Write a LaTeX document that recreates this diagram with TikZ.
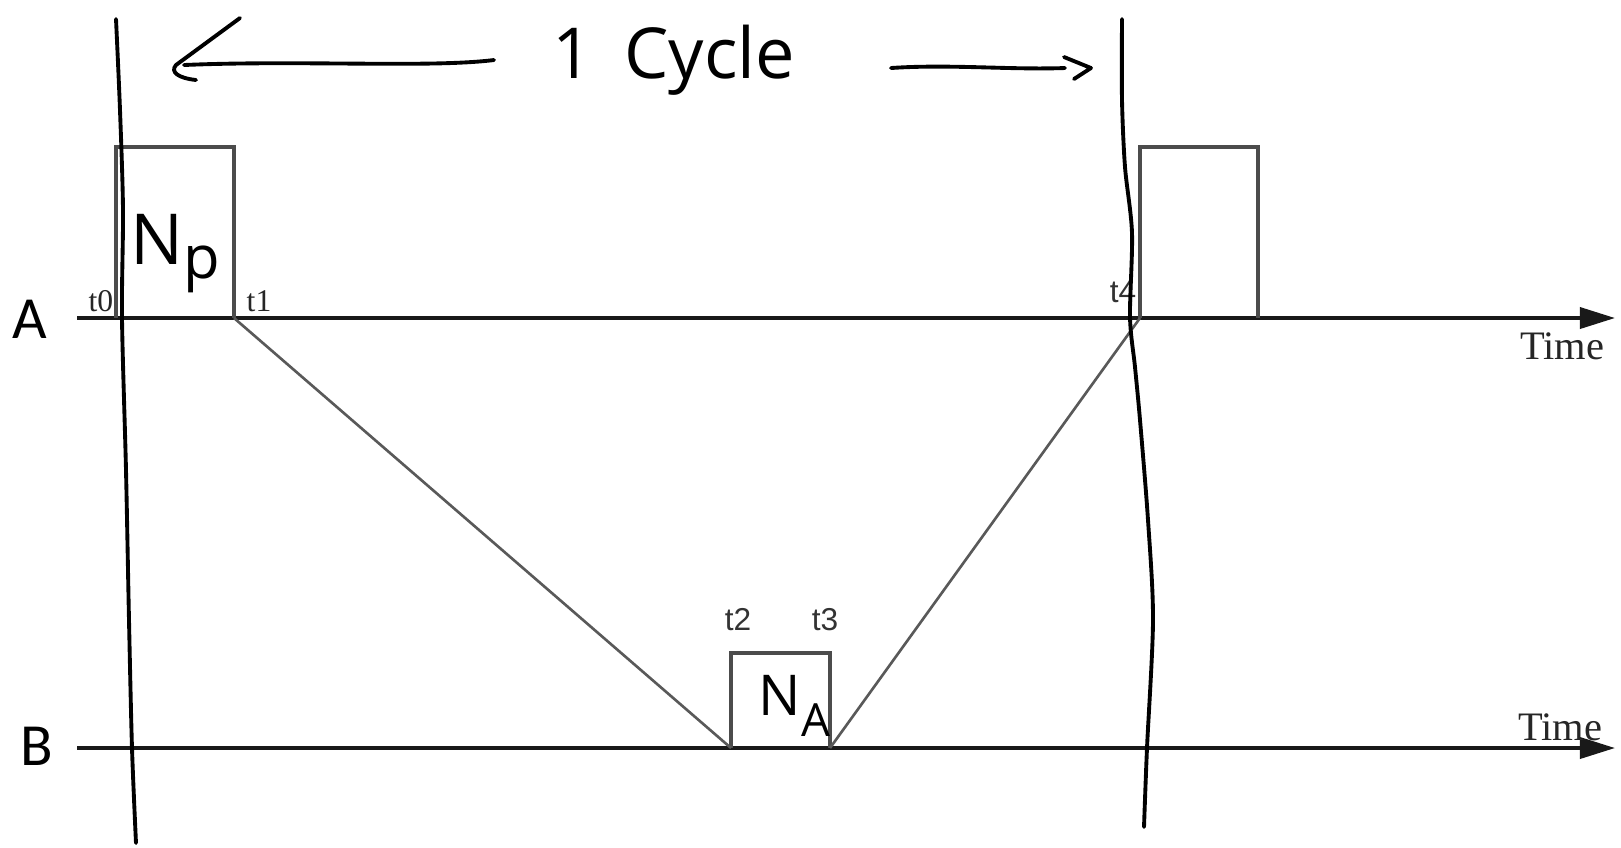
\documentclass[tikz,border=0pt]{standalone}
\usepackage{fontspec}
\setmainfont{Liberation Serif}
\newfontfamily\chanfont{Carlito}
\newfontfamily\tickfont{Liberation Sans}
\newfontfamily\handfont{Open Sans}
\usetikzlibrary{arrows.meta}

\begin{document}
\begin{tikzpicture}[x=0.01cm, y=-0.01cm,
    axis/.style={line width=1pt, black!90, -{Triangle[length=10pt,width=6pt]}},
    pulse/.style={line width=1pt, black!70},
    slope/.style={line width=0.75pt, black!65},
    hand/.style={line width=1.1pt, line cap=round, line join=round},
    chan/.style={font=\chanfont\fontsize{17}{17}\selectfont, inner sep=0pt},
    timelbl/.style={font=\fontsize{11.5}{11.5}\selectfont, text=black!85, inner sep=0pt},
    tserif/.style={font=\fontsize{9}{9}\selectfont, text=black!85, inner sep=0pt},
    tsans/.style={font=\tickfont\fontsize{9}{9}\selectfont, text=black!80, inner sep=0pt},
    handtext/.style={font=\handfont\fontsize{20}{20}\selectfont, inner sep=0pt}]
    \useasboundingbox (0,0) rectangle (1621,847);

    % Channels
    \node[chan] (lblA) at (30,319) {A};
    \node[chan] (lblB) at (37,746) {B};
    \coordinate (aStart) at (77,318);
    \coordinate (aEnd) at (1615,318);
    \coordinate (bStart) at (77,748);
    \coordinate (bEnd) at (1615,748);
    \draw[axis] (aStart) -- (aEnd);
    \draw[axis] (bStart) -- (bEnd);
    \node[timelbl] (timeA) at (1562,346) {Time};
    \node[timelbl] (timeB) at (1560,727) {Time};

    % Instants
    \coordinate (t0) at (116,318);
    \coordinate (t1) at (234,318);
    \coordinate (t2) at (731,748);
    \coordinate (t3) at (830,748);
    \coordinate (t4) at (1140,318);
    \coordinate (t5) at (1258,318);

    % Pulses
    \draw[pulse] (t0) -- ++(0,-171) -| (t1);
    \draw[pulse] (t4) -- ++(0,-171) -| (t5);
    \draw[pulse] (t2) -- ++(0,-95) -| (t3);

    % Propagation
    \draw[slope] (t1) -- (t2);
    \draw[slope] (t3) -- (t4);

    % Time stamps
    \node[tserif, anchor=base east] (lt0) at ([shift={(-2,-7)}]t0) {t0};
    \node[tserif, anchor=base west] (lt1) at ([shift={(12,-7)}]t1) {t1};
    \node[tsans, anchor=base east] (lt4) at ([shift={(-3,-16)}]t4) {t4};
    \node[tsans, anchor=base] (lt2) at ([shift={(7,-118)}]t2) {t2};
    \node[tsans, anchor=base] (lt3) at ([shift={(-5,-118)}]t3) {t3};

    % Handwriting
    \node[handtext, anchor=base west] (cycle) at (552,78) {1\hspace{0.45em}Cycle};
    \node[handtext, anchor=base west] (np) at (130,264) {N\raisebox{-4pt}{\fontsize{17}{17}\selectfont p}};
    \node[handtext, font=\handfont\fontsize{16}{16}\selectfont, anchor=base west] (na) at (758,715)
        {N\raisebox{-6pt}{\fontsize{13}{13}\selectfont A}};

    % Cycle arrows
    \coordinate (lTail) at (494,60);
    \coordinate (lTip) at (176,65);
    \coordinate (rTail) at (891,68);
    \coordinate (rTip) at (1091,68);
    \draw[hand] (lTail) .. controls (430,68) and (300,60) .. ([shift={(8,0)}]lTip);
    \draw[hand] (240,18) -- (lTip) .. controls (170,72) and (178,78) .. (196,80);
    \draw[hand] (rTail) .. controls (950,64) and (1010,70) .. ([shift={(-26,0)}]rTip);
    \draw[hand] (1064,57) -- (rTip) -- (1074,79);

    % Cycle borders
    \draw[hand] plot[smooth] coordinates {(116,19) (120,110) (123,210) (122,318) (126,470) (129,620) (132,748) (136,843)};
    \draw[hand] plot[smooth] coordinates {(1122,19) (1122,100) (1125,167) (1132,233) (1130,317) (1135,367) (1140,420) (1148,520) (1153,620) (1147,748) (1144,827)};
\end{tikzpicture}
\end{document}
